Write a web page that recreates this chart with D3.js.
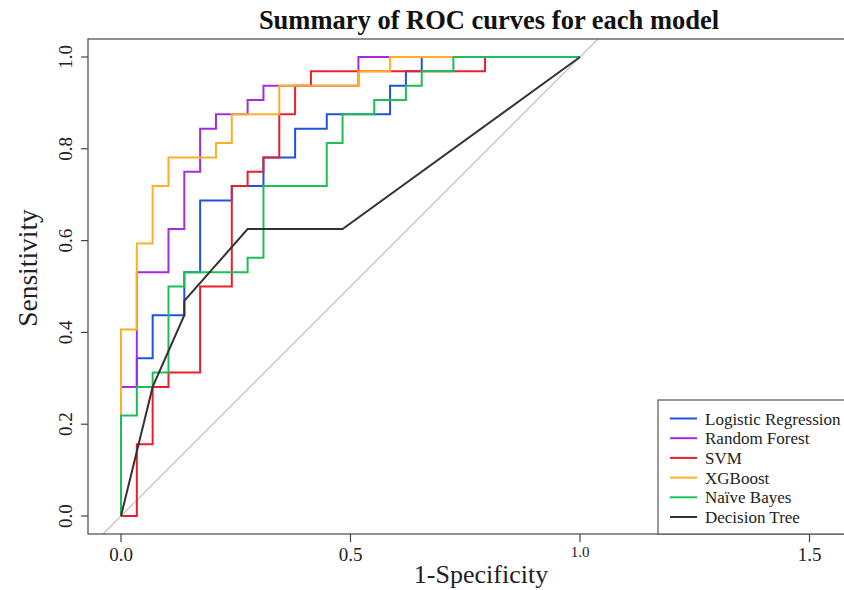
<!DOCTYPE html>
<html>
<head>
<meta charset="utf-8">
<script src="https://cdn.jsdelivr.net/npm/d3@7"></script>
<style>
  body { margin: 0; background: #fff; }
  svg { display: block; font-family: "Liberation Serif", "Times New Roman", serif; }
</style>
</head>
<body>
<div id="chart"></div>
<script>
// ROC data: corners of each curve, counted in cases
// (29 negatives, 32 positives)
const nNeg = 29, nPos = 32;

const models = ["Logistic Regression", "Random Forest", "SVM", "XGBoost", "Naïve Bayes", "Decision Tree"];
const colors = ["#2052e0", "#a22de0", "#e8202c", "#fdb024", "#1fbd58", "#333333"];

const lrFP = [0,0,1,1,2,2,4,4,5,5,7,7,9,9,11,11,13,13,17,17,18,18,19,19,29];
const lrTP = [0,9,9,11,11,14,14,17,17,22,22,23,23,25,25,27,27,28,28,30,30,31,31,32,32];

const rfFP = [0,0,1,1,3,3,4,4,5,5,6,6,8,8,9,9,15,15,29];
const rfTP = [0,9,9,17,17,20,20,24,24,27,27,28,28,29,29,30,30,32,32];

const svmFP = [0,1,1,2,2,3,3,5,5,7,7,8,8,9,9,10,10,11,11,12,12,23,23,29];
const svmTP = [0,0,5,5,9,9,10,10,16,16,23,23,24,24,25,25,28,28,30,30,31,31,32,32];

const xgbFP = [0,0,1,1,2,2,3,3,6,6,7,7,10,10,15,15,17,17,29];
const xgbTP = [0,13,13,19,19,23,23,25,25,26,26,28,28,30,30,31,31,32,32];

const nbFP = [0,0,1,1,2,2,3,3,4,4,8,8,9,9,13,13,14,14,16,16,18,18,19,19,21,21,29];
const nbTP = [0,7,7,9,9,10,10,16,16,17,17,18,18,23,23,26,26,28,28,29,29,30,30,31,31,32,32];

const dtFP = [0,2,4,4,8,14,29];
const dtTP = [0,9,14,15,20,20,32];

const curveFP = [lrFP, rfFP, svmFP, xgbFP, nbFP, dtFP];
const curveTP = [lrTP, rfTP, svmTP, xgbTP, nbTP, dtTP];

const xTicks = [0, 0.5, 1.0, 1.5];
const yTicks = [0, 0.2, 0.4, 0.6, 0.8, 1.0];

const width = 844, height = 590;
const plot = { left: 88, right: 884, top: 39, bottom: 534 };

const svg = d3.select("#chart").append("svg")
  .attr("width", width)
  .attr("height", height);

// x: 0 -> 121px, 1 -> 580px ; y: 0 -> 516px, 1 -> 57px
const x = d3.scaleLinear().domain([-0.0719, 1.6623]).range([plot.left, plot.right]);
const y = d3.scaleLinear().domain([-0.0392, 1.0392]).range([plot.bottom, plot.top]);

svg.append("clipPath").attr("id", "clip")
  .append("rect")
  .attr("x", plot.left).attr("y", plot.top)
  .attr("width", plot.right - plot.left).attr("height", plot.bottom - plot.top);

const g = svg.append("g").attr("clip-path", "url(#clip)");

// reference diagonal
g.append("line")
  .attr("x1", x(-0.1)).attr("y1", y(-0.1))
  .attr("x2", x(1.2)).attr("y2", y(1.2))
  .attr("stroke", "#b8b8b8")
  .attr("stroke-width", 1.1);

const line = d3.line()
  .x(d => x(d[0] / nNeg))
  .y(d => y(d[1] / nPos));

models.forEach((m, i) => {
  const pts = curveFP[i].map((fp, j) => [fp, curveTP[i][j]]);
  g.append("path")
    .attr("d", line(pts))
    .attr("fill", "none")
    .attr("stroke", colors[i])
    .attr("stroke-width", 2)
    .attr("stroke-linejoin", "miter");
});

// frame
svg.append("rect")
  .attr("x", plot.left).attr("y", plot.top)
  .attr("width", plot.right - plot.left).attr("height", plot.bottom - plot.top)
  .attr("fill", "none")
  .attr("stroke", "#555")
  .attr("stroke-width", 1.3);

// x axis
const xAxis = svg.append("g");
xTicks.forEach(t => {
  xAxis.append("line")
    .attr("x1", x(t)).attr("x2", x(t))
    .attr("y1", plot.bottom).attr("y2", plot.bottom + 8)
    .attr("stroke", "#444").attr("stroke-width", 1.2);
  xAxis.append("text")
    .attr("x", x(t))
    .attr("y", t === 1 ? 557 : 561)
    .attr("text-anchor", "middle")
    .attr("font-size", t === 1 ? 15 : 19)
    .attr("fill", "#222")
    .text(d3.format(".1f")(t));
});

// y axis
const yAxis = svg.append("g");
yTicks.forEach(t => {
  yAxis.append("line")
    .attr("x1", plot.left - 7).attr("x2", plot.left)
    .attr("y1", y(t)).attr("y2", y(t))
    .attr("stroke", "#444").attr("stroke-width", 1.2);
  yAxis.append("text")
    .attr("transform", `translate(${plot.left - 16},${y(t)}) rotate(-90)`)
    .attr("text-anchor", "middle")
    .attr("font-size", 19)
    .attr("fill", "#222")
    .text(d3.format(".1f")(t));
});

// titles
svg.append("text")
  .attr("x", 489).attr("y", 29)
  .attr("text-anchor", "middle")
  .attr("font-size", 26.5)
  .attr("font-weight", "bold")
  .attr("fill", "#111")
  .text("Summary of ROC curves for each model");

svg.append("text")
  .attr("x", 481).attr("y", 583)
  .attr("text-anchor", "middle")
  .attr("font-size", 26)
  .attr("fill", "#222")
  .text("1-Specificity");

svg.append("text")
  .attr("transform", `translate(37,268) rotate(-90)`)
  .attr("text-anchor", "middle")
  .attr("font-size", 27.5)
  .attr("fill", "#222")
  .text("Sensitivity");

// legend
const legend = svg.append("g");
legend.append("rect")
  .attr("x", 658).attr("y", 400)
  .attr("width", plot.right - 658).attr("height", plot.bottom - 400)
  .attr("fill", "#fff")
  .attr("stroke", "#555")
  .attr("stroke-width", 1.2);

models.forEach((m, i) => {
  const ly = 418.5 + i * 19.7;
  legend.append("line")
    .attr("x1", 670).attr("x2", 697)
    .attr("y1", ly).attr("y2", ly)
    .attr("stroke", colors[i]).attr("stroke-width", 2);
  legend.append("text")
    .attr("x", 705).attr("y", ly + 6)
    .attr("font-size", 17)
    .attr("fill", "#222")
    .text(m);
});
</script>
</body>
</html>
